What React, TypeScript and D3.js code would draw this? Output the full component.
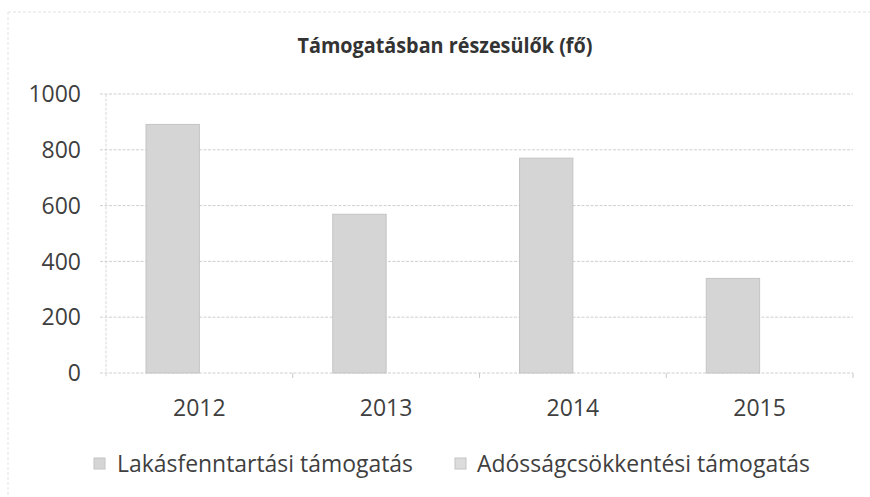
import React from "react";
import * as d3 from "d3";

const categories = ["2012", "2013", "2014", "2015"];
const seriesNames = ["Lakásfenntartási támogatás", "Adósságcsökkentési támogatás"];
const lakasfenntartasi = [891, 569, 770, 339];
const adossagcsokkentesi = [0, 0, 0, 0];
const yTicks = [0, 200, 400, 600, 800, 1000];
const title = "Támogatásban részesülők (fő)";

const W = 870;
const H = 497;
const FONT = "'Open Sans', 'Noto Sans', sans-serif";

export default function App() {
  const x = d3.scaleBand<string>().domain(categories).range([106, 853]).paddingInner(0).paddingOuter(0);
  const bw = x.bandwidth();
  const gap = bw * 0.75 / 3.5;
  const xs = d3.scaleBand<string>().domain(seriesNames).range([gap, bw - gap]).padding(0);
  const y = d3.scaleLinear().domain([0, 1000]).range([373, 94]);
  const seriesData = [lakasfenntartasi, adossagcsokkentesi];
  const fills = ["#d5d5d5", "#dcdcdc"];

  const [x0, x1] = x.range();
  const textColor = "#3f3f3f";

  return (
    <svg width={W} height={H} style={{ position: "absolute", left: 0, top: 0, background: "#fff" }}>
      <rect x={0} y={0} width={W} height={H} fill="#fff" />
      {/* chart border */}
      <line x1={8} y1={12} x2={W} y2={12} stroke="#e2e2e2" strokeDasharray="3,2" />
      <line x1={8} y1={12} x2={8} y2={H} stroke="#e2e2e2" strokeDasharray="3,2" />

      <text x={445} y={53} textAnchor="middle" fontFamily={FONT} fontWeight="bold" fontSize={21}
        fill="#333" textLength={295} lengthAdjust="spacingAndGlyphs">{title}</text>

      {yTicks.map((t) => (
        <g key={t}>
          <line x1={x0 - 6} x2={x1} y1={y(t)} y2={y(t)} stroke="#cfcfcf" strokeDasharray="3,1.5" />
          <text x={81} y={y(t)} dy="0.36em" textAnchor="end" fontFamily={FONT} fontSize={23} fill={textColor}>{t}</text>
        </g>
      ))}
      <line x1={x0} x2={x0} y1={y(1000)} y2={y(0) + 5} stroke="#d8d8d8" strokeDasharray="3,1.5" />
      {categories.map((c, i) => (
        <line key={"tk" + c} x1={x(c)! + bw} x2={x(c)! + bw} y1={y(0)} y2={y(0) + 5} stroke="#c8c8c8" />
      ))}

      {seriesData.map((vals, si) =>
        categories.map((c, i) => {
          const v = vals[i];
          if (v <= 0) return null;
          return (
            <rect key={si + "-" + c} x={x(c)! + xs(seriesNames[si])!} y={y(v)} width={xs.bandwidth()}
              height={y(0) - y(v)} fill={fills[si]} stroke="#c4c4c4" strokeWidth={1} />
          );
        })
      )}

      {categories.map((c) => (
        <text key={"l" + c} x={x(c)! + bw / 2} y={416} textAnchor="middle" fontFamily={FONT} fontSize={23} fill={textColor}>{c}</text>
      ))}

      {/* legend */}
      <rect x={94} y={458} width={11} height={11} fill={fills[0]} stroke="#c4c4c4" />
      <text x={117} y={472} fontFamily={FONT} fontSize={23} fill={textColor} textLength={296} lengthAdjust="spacingAndGlyphs">{seriesNames[0]}</text>
      <rect x={455} y={458} width={11} height={11} fill={fills[1]} stroke="#c4c4c4" />
      <text x={477} y={472} fontFamily={FONT} fontSize={23} fill={textColor} textLength={333} lengthAdjust="spacingAndGlyphs">{seriesNames[1]}</text>
    </svg>
  );
}
